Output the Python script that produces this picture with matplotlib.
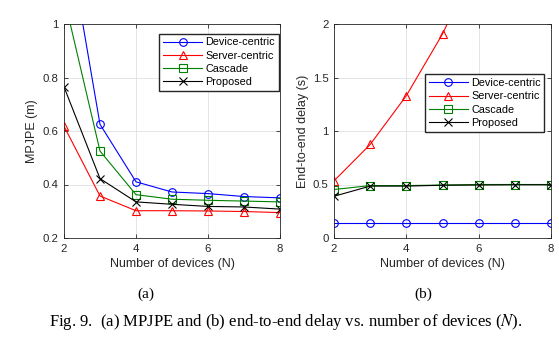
import matplotlib
matplotlib.use('Agg')
import matplotlib.pyplot as plt

plt.rcParams['font.family'] = 'Liberation Sans'
plt.rcParams['mathtext.fontset'] = 'stix'

devices = [2, 3, 4, 5, 6, 7, 8]

# MPJPE (m)
mpjpe_device = [1.41, 0.625, 0.41, 0.372, 0.366, 0.355, 0.35]
mpjpe_server = [0.618, 0.357, 0.302, 0.302, 0.301, 0.299, 0.295]
mpjpe_cascade = [1.10, 0.525, 0.362, 0.345, 0.341, 0.338, 0.335]
mpjpe_proposed = [0.765, 0.422, 0.335, 0.326, 0.318, 0.316, 0.308]

# end-to-end delay (s)
delay_device = [0.14, 0.14, 0.14, 0.14, 0.14, 0.14, 0.14]
delay_server = [0.534, 0.874, 1.33, 1.907, 2.62, 3.46, 4.42]
delay_cascade = [0.453, 0.49, 0.49, 0.495, 0.5, 0.5, 0.5]
delay_proposed = [0.39, 0.485, 0.485, 0.493, 0.495, 0.497, 0.497]

names = ['Device-centric', 'Server-centric', 'Cascade', 'Proposed']
colors = ['#0000ff', '#ff0000', '#008000', '#000000']
markers = ['o', '^', 's', 'x']
dark = '#262626'

fig = plt.figure(figsize=(5.59, 3.41), dpi=100)
ax1 = fig.add_axes([64 / 559, 1 - 238 / 341, 216 / 559, 214 / 341])
ax2 = fig.add_axes([334 / 559, 1 - 238 / 341, 217 / 559, 214 / 341])


def draw(ax, series):
    for vals, name, c, m in zip(series, names, colors, markers):
        ax.plot(devices, vals, color=c, marker=m, markersize=5.5,
                markerfacecolor='none', markeredgewidth=0.8, linewidth=0.8,
                label=name)
    ax.set_xlim(2, 8)
    ax.set_xticks([2, 4, 6, 8])
    ax.grid(True, color='#e0e0e0', linewidth=0.6)
    ax.set_axisbelow(True)
    ax.tick_params(direction='in', top=True, right=True, labelsize=8.2,
                   colors=dark, length=3, width=0.6, pad=4)
    for s in ax.spines.values():
        s.set_color(dark)
        s.set_linewidth(0.6)
    ax.set_xlabel('Number of devices (N)', fontsize=9, color=dark, labelpad=3)


def add_legend(ax, anchor):
    ax.legend(loc='upper right', bbox_to_anchor=anchor, fontsize=7.8,
              fancybox=False, edgecolor=dark, framealpha=1, borderpad=0.35,
              labelspacing=0.3, handlelength=3.6, handletextpad=0.3,
              borderaxespad=0)


draw(ax1, [mpjpe_device, mpjpe_server, mpjpe_cascade, mpjpe_proposed])
ax1.set_ylim(0.2, 1)
ax1.set_yticks([0.2, 0.4, 0.6, 0.8, 1])
ax1.set_yticklabels(['0.2', '0.4', '0.6', '0.8', '1'])
ax1.set_ylabel('MPJPE (m)', fontsize=9, color=dark, labelpad=3)
add_legend(ax1, (0.995, 0.955))

draw(ax2, [delay_device, delay_server, delay_cascade, delay_proposed])
ax2.set_ylim(0, 2)
ax2.set_yticks([0, 0.5, 1, 1.5, 2])
ax2.set_yticklabels(['0', '0.5', '1', '1.5', '2'])
ax2.set_ylabel('End-to-end delay (s)', fontsize=9, color=dark, labelpad=3)
add_legend(ax2, (0.97, 0.765))

fig.text(146 / 559, 1 - 294 / 341, '(a)', family='Liberation Serif',
         fontsize=11, ha='center', va='center')
fig.text(423 / 559, 1 - 294 / 341, '(b)', family='Liberation Serif',
         fontsize=11, ha='center', va='center')
fig.text(286 / 559, 1 - 322 / 341,
         'Fig. 9.  (a) MPJPE and (b) end-to-end delay vs. number of devices ($N$).',
         family='Liberation Serif', fontsize=12, ha='center', va='center')

fig.savefig('out.png', dpi=100)
